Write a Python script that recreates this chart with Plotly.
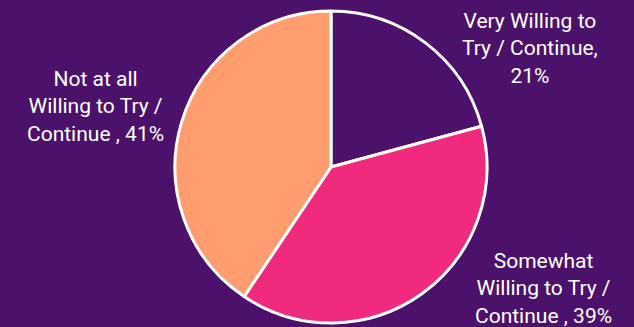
import plotly.graph_objects as go

categories = ["Very Willing to Try / Continue", "Somewhat Willing to Try / Continue", "Not at all Willing to Try / Continue"]
values = [21, 39, 41]
label_texts = ["Very Willing to<br>Try / Continue,<br>21%",
               "Somewhat<br>Willing to Try /<br>Continue , 39%",
               "Not at all<br>Willing to Try /<br>Continue , 41%"]
colors = ["#4b116b", "#f02a7c", "#ff9d6f"]
BG = "#4b116b"

W, H = 634, 327
cx, cy, r = 331, 167, 156

fig = go.Figure(go.Pie(
    labels=categories, values=values, sort=False, direction="clockwise", rotation=0,
    marker=dict(colors=colors, line=dict(color="white", width=3)),
    textinfo="none", hoverinfo="label+percent", showlegend=False,
    domain=dict(x=[(cx - r) / W, (cx + r) / W], y=[(H - cy - r) / H, (H - cy + r) / H]),
))

label_pos = [(530, 48), (543, 288), (95, 106)]
for txt, (x, y) in zip(label_texts, label_pos):
    fig.add_annotation(text=txt, x=x / W, y=1 - y / H, xref="paper", yref="paper",
                       showarrow=False, xanchor="center", yanchor="middle", align="center",
                       font=dict(family="Roboto", size=21, color="white"))

fig.update_layout(width=W, height=H, margin=dict(l=0, r=0, t=0, b=0),
                  paper_bgcolor=BG, plot_bgcolor=BG)
fig.write_html("out.html")
